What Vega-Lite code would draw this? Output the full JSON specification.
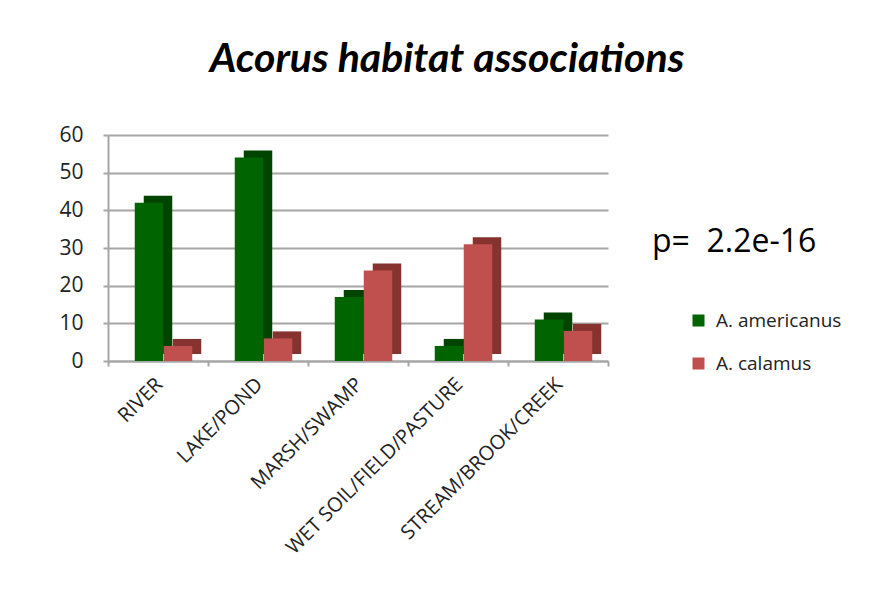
{
  "$schema": "https://vega.github.io/schema/vega-lite/v6.json",
  "width": 500,
  "height": 226,
  "autosize": {"type": "none"},
  "padding": {"left": 108, "top": 135, "right": 272, "bottom": 239},
  "background": "white",
  "config": {"view": {"stroke": null}},
  "title": {
    "text": "Acorus habitat associations",
    "font": "Lato",
    "fontSize": 41,
    "fontWeight": "bold",
    "fontStyle": "italic",
    "color": "black",
    "anchor": "middle",
    "dx": 89,
    "offset": 43
  },
  "data": {
    "values": [
      {"habitat": "RIVER", "species": "A. americanus", "count": 42},
      {"habitat": "RIVER", "species": "A. calamus", "count": 4},
      {"habitat": "LAKE/POND", "species": "A. americanus", "count": 54},
      {"habitat": "LAKE/POND", "species": "A. calamus", "count": 6},
      {"habitat": "MARSH/SWAMP", "species": "A. americanus", "count": 17},
      {"habitat": "MARSH/SWAMP", "species": "A. calamus", "count": 24},
      {"habitat": "WET SOIL/FIELD/PASTURE", "species": "A. americanus", "count": 4},
      {"habitat": "WET SOIL/FIELD/PASTURE", "species": "A. calamus", "count": 31},
      {"habitat": "STREAM/BROOK/CREEK", "species": "A. americanus", "count": 11},
      {"habitat": "STREAM/BROOK/CREEK", "species": "A. calamus", "count": 8}
    ]
  },
  "encoding": {
    "x": {
      "field": "habitat",
      "type": "nominal",
      "sort": ["RIVER", "LAKE/POND", "MARSH/SWAMP", "WET SOIL/FIELD/PASTURE", "STREAM/BROOK/CREEK"],
      "scale": {"paddingInner": 0, "paddingOuter": 0},
      "axis": {
        "title": null,
        "labelAngle": -45,
        "labelAlign": "right",
        "labelBaseline": "middle",
        "labelFont": "Open Sans",
        "labelFontSize": 20,
        "labelColor": "#222222",
        "labelPadding": 15,
        "labelOffset": 1,
        "labelLimit": 0,
        "domainColor": "#a6a6a6",
        "domainWidth": 2,
        "tickColor": "#a6a6a6",
        "tickWidth": 2,
        "tickSize": 5,
        "tickBand": "extent",
        "grid": false
      }
    },
    "y": {
      "field": "count",
      "type": "quantitative",
      "scale": {"domain": [0, 60]},
      "axis": {
        "title": null,
        "values": [0, 10, 20, 30, 40, 50, 60],
        "grid": true,
        "gridColor": "#a6a6a6",
        "gridWidth": 2,
        "domainColor": "#a6a6a6",
        "domainWidth": 2,
        "tickColor": "#a6a6a6",
        "tickWidth": 2,
        "tickSize": 5,
        "labelFont": "Open Sans",
        "labelFontSize": 21,
        "labelColor": "#222222",
        "labelPadding": 20
      }
    }
  },
  "layer": [
    {
      "transform": [{"filter": "datum.species === 'A. americanus'"}],
      "mark": {"type": "bar", "width": 28.5, "xOffset": 0, "yOffset": -7, "color": "#004400"}
    },
    {
      "transform": [{"filter": "datum.species === 'A. calamus'"}],
      "mark": {"type": "bar", "width": 28.5, "xOffset": 29, "yOffset": -7, "color": "#86332f"}
    },
    {
      "transform": [{"filter": "datum.species === 'A. americanus'"}],
      "mark": {"type": "bar", "width": 28.5, "xOffset": -9},
      "encoding": {"color": {"field": "species", "type": "nominal"}}
    },
    {
      "transform": [{"filter": "datum.species === 'A. calamus'"}],
      "mark": {"type": "bar", "width": 28.5, "xOffset": 20},
      "encoding": {
        "color": {
          "field": "species",
          "type": "nominal",
          "scale": {"domain": ["A. americanus", "A. calamus"], "range": ["#006400", "#c0504d"]},
          "legend": {
            "title": "p=\u00a0 2.2e-16",
            "orient": "none",
            "legendX": 544,
            "legendY": 92,
            "titleFont": "Open Sans",
            "titleFontSize": 32,
            "titleFontWeight": "normal",
            "titleColor": "black",
            "titlePadding": 52,
            "symbolType": "square",
            "symbolSize": 144,
            "symbolStrokeWidth": 0,
            "symbolOffset": 37,
            "labelFont": "Open Sans",
            "labelFontSize": 19,
            "labelColor": "#222222",
            "labelOffset": 8,
            "rowPadding": 23
          }
        }
      }
    }
  ]
}
